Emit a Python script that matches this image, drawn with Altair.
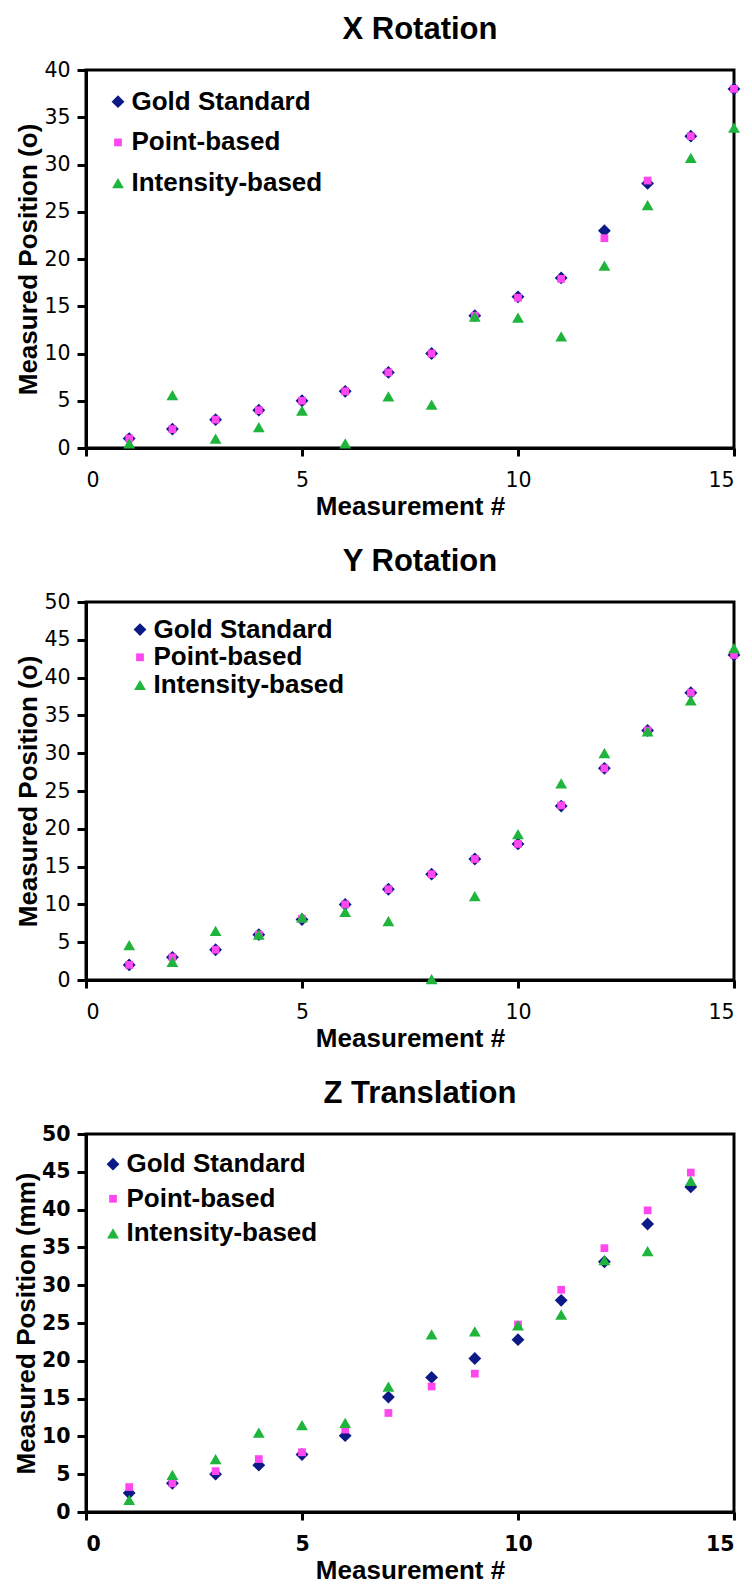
import altair as alt
import pandas as pd

SERIES = ["Gold Standard", "Point-based", "Intensity-based"]
COLORS = ["#0b1a85", "#ff47f0", "#1fb53c"]
SHAPES = ["diamond", "square", "triangle-up"]
SIZES = [165, 60, 140]

x15 = list(range(1, 16))
x14 = list(range(1, 15))

# X Rotation
xr_gold = [1, 2, 3, 4, 5, 6, 8, 10, 14, 16, 18, 23, 28, 33, 38]
xr_point = [1, 2, 3, 4, 5, 6, 8, 10, 14, 15.9, 17.9, 22.2, 28.3, 33, 38]
xr_int = [0.5, 5.6, 1.0, 2.2, 3.95, 0.5, 5.45, 4.6, 13.9, 13.8, 11.8, 19.3, 25.7, 30.7, 33.9]

# Y Rotation
yr_gold = [2, 3, 4, 6, 8, 10, 12, 14, 16, 18, 23, 28, 33, 38, 43]
yr_point = [2, 3, 4, 6, 8.1, 10, 12, 14, 16, 18, 23.1, 28, 33, 38, 43]
yr_int = [4.6, 2.4, 6.5, 6.0, 8.3, 9.0, 7.8, 0.1, 11.1, 19.3, 26.0, 30.0, 32.9, 37.0, 43.9]

# Z Translation
zt_gold = [2.5, 3.8, 5.0, 6.2, 7.6, 10.1, 15.2, 17.8, 20.3, 22.8, 28.0, 33.1, 38.1, 43.0]
zt_point = [3.3, 3.8, 5.4, 7.0, 7.9, 10.9, 13.1, 16.6, 18.3, 24.8, 29.4, 34.9, 39.9, 44.9]
zt_int = [1.6, 4.9, 7.0, 10.5, 11.5, 11.8, 16.6, 23.5, 23.9, 24.7, 26.1, 33.3, 34.5, 43.8]

FONT = "Liberation Sans"
TICKFONT = "DejaVu Sans"
W, H = 648, 378


def frame(xs, gold, point, inten):
    rows = []
    for name, vals in zip(SERIES, [gold, point, inten]):
        for x, v in zip(xs, vals):
            rows.append({"m": x, "v": v, "series": name})
    return pd.DataFrame(rows)


def legend(lx, ly, rowpad):
    return alt.Legend(
        orient="none", legendX=lx, legendY=ly, title=None,
        labelFont=FONT, labelFontSize=26, labelFontWeight="bold",
        labelColor="black", labelLimit=0, symbolSize=100, rowPadding=rowpad,
        labelOffset=0.5, padding=0, symbolStrokeWidth=0,
    )


def panel(title, ytitle, xs, gold, point, inten, ymax, bold, lx, ly, rowpad):
    df = frame(xs, gold, point, inten)
    lw = "bold" if bold else "normal"
    return (
        alt.Chart(df)
        .mark_point(filled=True, opacity=1)
        .encode(
            x=alt.X(
                "m:Q",
                scale=alt.Scale(domain=[0, 15], nice=False),
                axis=alt.Axis(
                    title="Measurement #", values=[0, 5, 10, 15], grid=False,
                    labelFontWeight=lw, tickSize=8, labelPadding=14, titlePadding=3,
                ),
            ),
            y=alt.Y(
                "v:Q",
                scale=alt.Scale(domain=[0, ymax], nice=False),
                axis=alt.Axis(
                    title=ytitle, values=list(range(0, ymax + 1, 5)), grid=False,
                    labelFontWeight=lw, tickSize=9, labelPadding=7, titlePadding=2,
                ),
            ),
            color=alt.Color(
                "series:N",
                scale=alt.Scale(domain=SERIES, range=COLORS),
                legend=legend(lx, ly, rowpad),
            ),
            shape=alt.Shape(
                "series:N",
                scale=alt.Scale(domain=SERIES, range=SHAPES),
                legend=legend(lx, ly, rowpad),
            ),
            size=alt.Size(
                "series:N",
                scale=alt.Scale(type="ordinal", domain=SERIES, range=SIZES),
                legend=None,
            ),
        )
        .properties(
            width=W, height=H,
            title=alt.Title(title, fontSize=31, fontWeight="bold", font=FONT,
                            color="black", dx=10, offset=14),
        )
    )


p1 = panel("X Rotation", "Measured Position (o)", x15, xr_gold, xr_point, xr_int, 40, False, 19, 18.7, 14.7)
p2 = panel("Y Rotation", "Measured Position (o)", x15, yr_gold, yr_point, yr_int, 50, False, 41, 14.6, 1.7)
p3 = panel("Z Translation", "Measured Position (mm)", x14, zt_gold, zt_point, zt_int, 50, True, 14, 17.2, 8.6)

chart = (
    alt.vconcat(p1, p2, p3, spacing=23)
    .resolve_scale(color="independent", shape="independent", size="independent")
    .resolve_legend(color="independent", shape="independent")
    .properties(padding={"left": 11, "top": 12, "right": 5, "bottom": 0}, background="white")
    .configure_view(stroke="black", strokeWidth=3)
    .configure_axis(
        domainColor="black", domainWidth=3, tickColor="black", tickWidth=3,
        labelFont=TICKFONT, labelFontSize=20.5, labelColor="black",
        titleFont=FONT, titleFontSize=26, titleFontWeight="bold", titleColor="black",
    )
)

chart.save("out.html", embed_options={"renderer": "svg", "actions": False})
